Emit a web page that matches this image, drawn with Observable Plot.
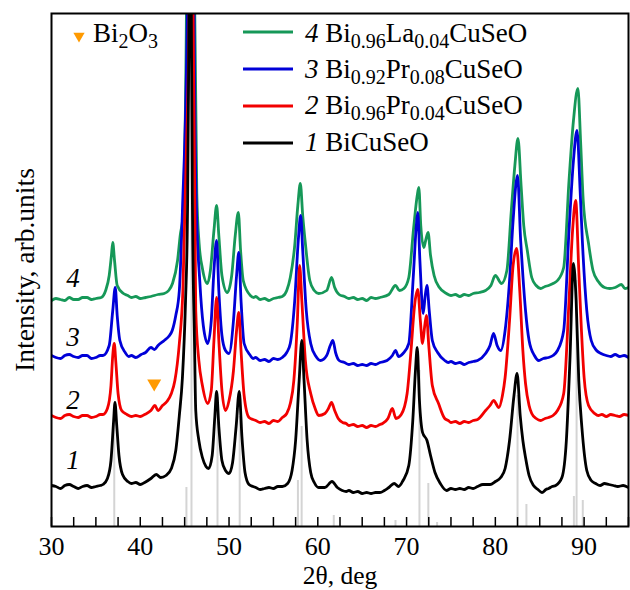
<!DOCTYPE html>
<html><head><meta charset="utf-8">
<script src="https://cdn.jsdelivr.net/npm/d3@7"></script>
<script src="https://cdn.jsdelivr.net/npm/@observablehq/plot@0.6"></script>
<style>
body{margin:0;background:#fff}
#chart svg, #chart svg text, #chart svg tspan { font-family: "Liberation Serif", "Times New Roman", serif !important; }
</style>
</head><body><div id="chart"></div>
<script>
// 2θ (deg), intensity (arb. units, already offset for display)
const series1 = [[30,41],[30.5,40],[31,38],[31.5,41],[32,42],[32.5,40],[33,38],[33.5,40],[34,41],[34.5,39],[35,40],[35.5,41],[35.8,42],[36.3,48],[36.7,66],[37,106],[37.15,124],[37.35,101],[37.6,71],[38,52],[38.6,45],[39,43],[39.5,44],[40,42],[40.5,44],[41.2,48],[41.8,52],[42.3,49],[42.9,51],[43.5,58],[44,76],[44.4,111],[44.75,149],[45.1,226],[45.3,300],[45.5,513],[45.62,1500],[45.75,513],[45.9,300],[46.1,190],[46.25,116],[46.6,86],[47,69],[47.4,60],[47.7,58],[48.1,71],[48.4,110],[48.6,135],[48.85,100],[49.2,66],[49.6,56],[50,53],[50.4,64],[50.8,100],[51.15,135],[51.45,90],[51.8,54],[52.25,42],[52.7,40],[53,39],[53.5,37],[54,38],[54.5,39],[55,38],[55.5,40],[56,40],[56.6,43],[57.1,56],[57.5,86],[57.9,146],[58.2,186],[58.45,146],[58.8,86],[59.2,54],[59.6,44],[60.1,39],[60.8,39],[61.6,45],[62.2,39],[62.75,36],[63.2,35],[63.5,36],[64,34],[64.5,35],[65,33],[65.5,34],[66,33],[66.5,34],[67,34],[67.5,36],[68,39],[68.6,43],[69.1,40],[69.6,46],[70.25,61],[70.7,106],[71,156],[71.2,179],[71.45,126],[71.8,94],[72.3,86],[72.7,71],[73.2,54],[73.8,43],[74.5,36],[75,38],[75.5,37],[76,38],[76.5,37],[77,39],[77.5,38],[78,40],[78.6,42],[79.4,42],[80,45],[80.6,49],[81.1,58],[81.6,86],[82.1,131],[82.45,153],[82.8,111],[83.1,86],[83.4,69],[83.8,51],[84.3,41],[84.8,37],[85.25,34],[85.7,37],[86,38],[86.4,40],[86.8,41],[87.5,49],[88,86],[88.4,166],[88.8,263],[89.1,226],[89.4,146],[89.75,99],[90.3,56],[90.8,46],[91.3,43],[91.8,41],[92.3,43],[92.8,42],[93.3,41],[93.8,40],[94.4,41],[95,39]];
const series2 = [[30,111],[30.5,109],[31,108],[31.5,111],[32,112],[32.5,110],[33,109],[33.5,111],[34,111],[34.5,109],[35,110],[35.5,112],[35.8,112],[36.3,118],[36.7,141],[36.9,171],[37.07,183],[37.25,164],[37.5,133],[37.9,116],[38.5,112],[39,110],[39.5,111],[40,110],[40.5,112],[41.2,116],[41.65,121],[42,116],[42.5,121],[43,125],[43.5,133],[43.9,146],[44.4,183],[44.8,236],[45.2,376],[45.5,513],[45.72,1500],[45.95,513],[46.25,216],[46.6,166],[47,141],[47.6,123],[48,136],[48.3,186],[48.6,229],[48.85,186],[49.2,136],[49.6,116],[50,126],[50.5,156],[50.85,196],[51.1,214],[51.35,176],[51.7,131],[52.25,109],[52.7,107],[53,106],[53.5,104],[54,105],[54.5,103],[55,106],[55.5,105],[56,109],[56.5,113],[56.9,123],[57.3,146],[57.7,206],[57.95,261],[58.2,226],[58.6,166],[59.2,133],[59.7,118],[60.1,111],[60.8,113],[61.2,118],[61.55,124],[61.9,116],[62.3,108],[62.8,104],[63.2,103],[63.5,101],[64,102],[64.5,100],[65,101],[65.5,99],[66,101],[66.5,100],[67,102],[67.3,103],[67.9,108],[68.4,118],[68.8,108],[69.4,112],[70.06,133],[70.5,176],[70.9,221],[71.26,237],[71.55,206],[71.8,183],[72.05,201],[72.24,211],[72.5,181],[72.9,141],[73.6,123],[74.3,108],[74.7,106],[75,104],[75.5,105],[76,103],[76.5,105],[77,104],[77.5,106],[78,107],[78.9,116],[79.4,121],[79.8,126],[80.4,119],[80.8,131],[81.1,149],[81.6,206],[82,261],[82.4,278],[82.75,236],[83.1,176],[83.4,143],[83.8,121],[84.1,113],[84.6,108],[85.1,106],[85.6,108],[86,109],[86.5,111],[87,116],[87.7,133],[88.3,226],[88.7,296],[89.05,326],[89.4,256],[89.7,196],[90,149],[90.5,121],[91.2,113],[91.6,111],[92,112],[92.5,110],[93,112],[93.5,111],[94,110],[94.5,112],[95,111]];
const series3 = [[30,171],[30.5,169],[31,168],[31.5,171],[32,172],[32.5,170],[33,169],[33.5,171],[34,171],[34.5,168],[35,169],[35.5,171],[35.8,171],[36.5,181],[36.9,216],[37.18,239],[37.4,211],[37.7,186],[38.3,174],[38.7,170],[39,171],[39.5,169],[40.1,172],[40.6,174],[41.2,179],[41.6,177],[42,181],[42.7,186],[43.2,190],[43.6,196],[44,211],[44.4,236],[44.75,316],[45.3,513],[45.68,1500],[46.06,513],[46.3,326],[46.7,246],[47.1,201],[47.6,183],[48,206],[48.3,256],[48.6,286],[48.85,236],[49.2,191],[49.6,176],[50,173],[50.5,206],[50.85,251],[51.1,274],[51.35,226],[51.7,183],[52.4,171],[52.7,168],[53,169],[53.5,166],[54,167],[54.5,165],[55,168],[55.5,167],[56,169],[56.5,174],[56.9,183],[57.4,226],[57.8,286],[58.07,311],[58.3,276],[58.7,216],[59.2,183],[59.8,170],[60.3,166],[61,171],[61.4,181],[61.7,186],[62,174],[62.4,166],[63,164],[63.5,162],[64,163],[64.5,161],[65,162],[65.5,161],[66,163],[66.5,162],[67,164],[67.8,166],[68.4,171],[68.75,176],[69.1,170],[69.6,173],[70.25,183],[70.75,249],[71.1,301],[71.26,314],[71.5,266],[71.87,213],[72.1,231],[72.3,241],[72.55,216],[72.9,186],[73.5,174],[74.3,166],[74.7,164],[75,165],[75.5,163],[76,164],[76.5,162],[77,164],[77.5,165],[78,166],[78.9,173],[79.4,181],[79.8,193],[80.2,181],[80.6,176],[81.1,196],[81.6,246],[82,306],[82.5,351],[82.85,286],[83.1,251],[83.4,216],[83.8,186],[84.4,171],[84.9,166],[85.4,168],[86,169],[86.5,171],[87,176],[87.7,196],[88.3,296],[88.8,366],[89.2,396],[89.55,336],[89.8,286],[90.3,216],[90.8,186],[91.4,176],[91.9,173],[92.5,171],[93,170],[93.5,172],[94,170],[94.5,171],[95,169]];
const series4 = [[30,226],[30.5,228],[31,227],[31.5,226],[32,229],[32.5,227],[33,227],[33.5,229],[34,229],[34.5,227],[35,228],[35.6,229],[36.1,236],[36.5,251],[36.75,271],[36.9,284],[37.1,266],[37.4,241],[38.1,233],[38.6,231],[39,229],[39.5,230],[40,228],[40.6,229],[41.2,230],[42,232],[42.7,233],[43.2,236],[43.63,243],[44.2,266],[44.5,291],[44.87,316],[44.95,349],[45.2,513],[45.67,1500],[46.14,513],[46.37,333],[46.63,283],[47,258],[47.57,243],[47.9,256],[48.3,296],[48.6,321],[48.85,291],[49.2,251],[49.8,234],[50.3,251],[50.7,291],[51.05,314],[51.3,276],[51.6,246],[52.4,231],[52.8,229],[53,230],[53.5,227],[54,228],[54.5,226],[55,228],[55.5,229],[56,230],[56.5,236],[56.9,249],[57.4,281],[57.75,321],[58.03,343],[58.3,311],[58.6,283],[59.1,246],[59.6,236],[60.1,233],[61,236],[61.55,249],[61.9,239],[62.4,232],[63,230],[63.5,228],[64,229],[64.5,227],[65,228],[65.5,226],[66,229],[66.5,228],[67,229],[68,232],[68.75,241],[69.2,236],[69.7,238],[70.25,249],[70.8,299],[71.2,331],[71.38,339],[71.6,301],[71.94,279],[72.15,286],[72.42,294],[72.7,271],[73.1,251],[73.7,239],[74.5,233],[75,231],[75.5,232],[76,230],[76.5,232],[77,231],[77.5,233],[78.2,234],[78.9,236],[79.5,241],[80,251],[80.7,243],[81.3,256],[81.8,316],[82.2,361],[82.55,388],[82.9,341],[83.2,301],[83.6,276],[84.1,249],[84.6,241],[85.1,238],[85.6,240],[86,241],[86.5,243],[87,246],[87.7,259],[88.3,346],[88.8,406],[89.3,438],[89.6,386],[89.9,326],[90.5,283],[91,256],[91.6,245],[92.3,239],[92.9,238],[93.5,239],[94.2,242],[94.6,238],[95,239]];

// reference pattern lines: 2θ, relative height
const refAngles  = [37.07, 45.2, 45.77, 48.7, 51.2, 57.76, 58.18, 61.8, 68.75, 71.45, 72.45, 73.44, 82.5, 83.5, 88.85, 89.15, 89.85];
const refHeights = [116, 39, 456, 115, 110, 46, 100, 11, 6, 156, 43, 4, 131, 22, 30, 246, 26];

// Bi2O3 impurity peak marker
const bi2o3Angle = [41.57];
const bi2o3Value = [143];

// curve numbers
const curveNums   = ["4", "3", "2", "1"];
const curveLabelX = [32.42, 32.42, 32.42, 32.42];
const curveLabelY = [248, 189, 126, 66];

// legend
const legendNums = ["4", "3", "2", "1"];
const legendFormulas = [
  [["Bi",0],["0.96",1],["La",0],["0.04",1],["CuSeO",0]],
  [["Bi",0],["0.92",1],["Pr",0],["0.08",1],["CuSeO",0]],
  [["Bi",0],["0.96",1],["Pr",0],["0.04",1],["CuSeO",0]],
  [["BiCuSeO",0]]
];
const colors = {s4: "#169858", s3: "#0000d8", s2: "#f20000", s1: "#000000"};
const legendColors = [colors.s4, colors.s3, colors.s2, colors.s1];
const minorTicks = d3.range(30, 95.01, 2.5);
const majorTicks = [30, 40, 50, 60, 70, 80, 90];

const font = "Liberation Serif, Times New Roman, serif";
const lineOpts = (c) => ({x: d => d[0], y: d => d[1], stroke: c, strokeWidth: 2.8, clip: true, curve: "monotone-x"});

const svg = Plot.plot({
  width: 630, height: 590,
  marginLeft: 51, marginRight: 2, marginTop: 13, marginBottom: 64,
  style: "font-family: 'Liberation Serif', serif; font-size: 26px; background: #fff; color: #000;",
  x: {domain: [30, 95], axis: null},
  y: {domain: [0, 513], axis: null},
  marks: [
    Plot.ruleX(refAngles, {x: d => d, y1: 0, y2: (d, i) => refHeights[i], stroke: "#d4d4d4", strokeWidth: 2, clip: true}),
    Plot.line(series4, lineOpts(colors.s4)),
    Plot.line(series3, lineOpts(colors.s3)),
    Plot.line(series2, lineOpts(colors.s2)),
    Plot.line(series1, lineOpts(colors.s1)),
    Plot.dot(bi2o3Angle, {x: d => d, y: (d, i) => bi2o3Value[i], symbol: "triangle", rotate: 180, r: 5.2, fill: "#ff9a00", stroke: null}),
    Plot.text(curveNums, {x: (d, i) => curveLabelX[i], y: (d, i) => curveLabelY[i], text: d => d, fontStyle: "italic", fontSize: 27, fontFamily: font, textAnchor: "middle", lineAnchor: "middle"}),
    Plot.axisX({ticks: minorTicks, tickSize: 9, dy: -9, tickFormat: () => "", label: null, strokeWidth: 1.5}),
    Plot.axisX({ticks: majorTicks, tickSize: 0, tickPadding: 10, fontSize: 26, fontFamily: font, label: null, tickFormat: d => String(d)}),
    Plot.text(["2θ, deg"], {frameAnchor: "bottom", dy: 49.5, fontSize: 25.5, fontFamily: font, lineAnchor: "middle", textAnchor: "middle"}),
    Plot.text(["Intensity, arb.units"], {frameAnchor: "left", dx: -26, rotate: -90, fontSize: 27.5, fontFamily: font, textAnchor: "middle", lineAnchor: "middle"}),
    Plot.frame({stroke: "#000", strokeWidth: 2})
  ]
});

// legend (inside the frame, top right) and Bi2O3 key (top left)
const g = d3.select(svg).append("g").attr("font-family", font).attr("font-size", 27)
  .attr("fill", "#000").attr("text-anchor", "start");
legendNums.forEach((n, i) => {
  const ly = 32 + i * 37;
  g.append("line").attr("x1", 243).attr("x2", 293).attr("y1", ly).attr("y2", ly)
    .attr("stroke", legendColors[i]).attr("stroke-width", 3);
  const t = g.append("text").attr("x", 305).attr("y", 42 + i * 36.2);
  t.append("tspan").attr("font-style", "italic").text(n);
  t.append("tspan").text("\u00a0");
  legendFormulas[i].forEach(([s, sub], j) => {
    const prevSub = j > 0 && legendFormulas[i][j - 1][1];
    const ts = t.append("tspan").text(s);
    if (sub) ts.attr("font-size", 20).attr("dy", 6);
    else if (prevSub) ts.attr("dy", -6);
  });
});
g.append("path").attr("d", d3.symbol(d3.symbolTriangle, 55)()).attr("transform", "translate(79,36) rotate(180)").attr("fill", "#ff9a00");
const kt = g.append("text").attr("x", 93).attr("y", 42);
kt.append("tspan").text("Bi");
kt.append("tspan").attr("font-size", 20).attr("dy", 6).text("2");
kt.append("tspan").attr("dy", -6).text("O");
kt.append("tspan").attr("font-size", 20).attr("dy", 6).text("3");

document.getElementById("chart").appendChild(svg);
</script>
</body></html>
